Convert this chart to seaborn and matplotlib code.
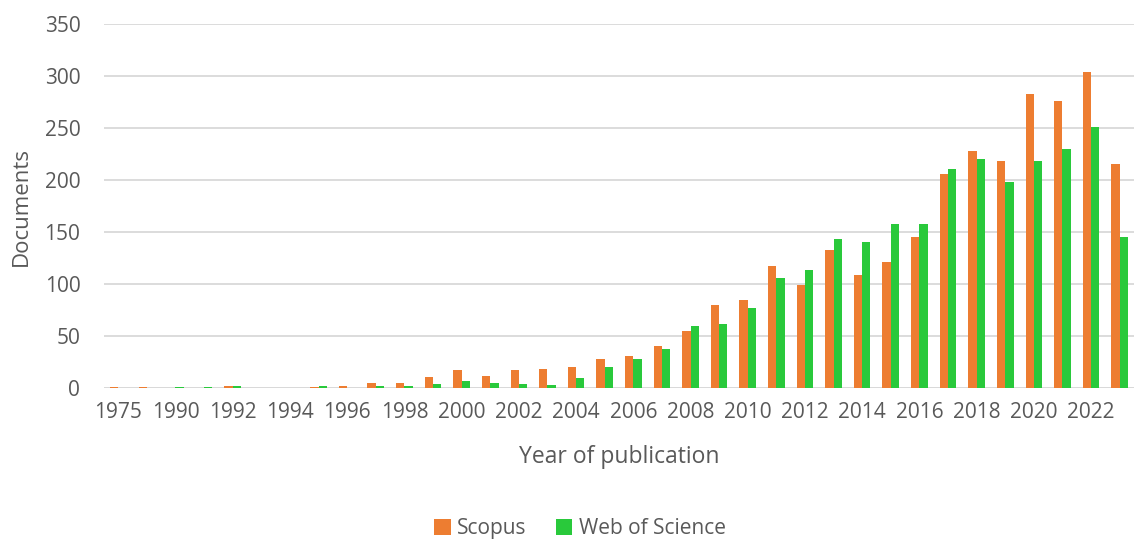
import matplotlib
matplotlib.use("Agg")
import matplotlib.pyplot as plt
import seaborn as sns
import pandas as pd
from matplotlib.patches import Patch

years = ["1975", "1985", "1990", "1991", "1992", "1993", "1994", "1995", "1996", "1997",
         "1998", "1999", "2000", "2001", "2002", "2003", "2004", "2005", "2006", "2007",
         "2008", "2009", "2010", "2011", "2012", "2013", "2014", "2015", "2016", "2017",
         "2018", "2019", "2020", "2021", "2022", "2023"]
scopus = [1, 1, 0, 0, 2, 0, 0, 1, 2, 5,
          5, 11, 17, 12, 17, 18, 20, 28, 31, 40,
          55, 80, 85, 117, 99, 133, 109, 121, 145, 206,
          228, 218, 283, 276, 304, 215]
wos = [0, 0, 1, 1, 2, 0, 0, 2, 0, 2,
       2, 4, 7, 5, 4, 3, 10, 20, 28, 38,
       60, 62, 77, 106, 113, 143, 140, 158, 158, 211,
       220, 198, 218, 230, 251, 145]
series_names = ["Scopus", "Web of Science"]
colors = ["#ED7D31", "#29C93B"]

df = pd.DataFrame({
    "Year": years * 2,
    "Documents": scopus + wos,
    "Source": [series_names[0]] * len(years) + [series_names[1]] * len(years),
})

sns.set_theme(style="white")
plt.rcParams["font.family"] = ["Open Sans", "DejaVu Sans"]
text_color = "#595959"

fig = plt.figure(figsize=(11.35, 5.39), dpi=100)
ax = fig.add_axes([0.0916, 0.2801, 0.9075, 0.6754])

sns.barplot(data=df, x="Year", y="Documents", hue="Source", order=years,
            hue_order=series_names, palette=colors, width=0.58, ax=ax,
            legend=False, saturation=1, linewidth=0)

ax.set_ylim(0, 350)
ax.set_xlim(-0.5, len(years) - 0.5)
ax.set_yticks(range(0, 351, 50))
ax.yaxis.grid(True, color="#D9D9D9", linewidth=1.3)
ax.set_axisbelow(True)
for s in ax.spines.values():
    s.set_visible(False)
ax.axhline(0, color="#D9D9D9", linewidth=1.3, zorder=0)

ticks = list(range(0, len(years), 2))
ax.set_xticks(ticks)
ax.set_xticklabels([years[i] for i in ticks])
ax.tick_params(axis="both", length=0, labelsize=15, colors=text_color)
ax.tick_params(axis="x", pad=10)
ax.tick_params(axis="y", pad=17)

ax.set_xlabel("Year of publication", fontsize=16.5, color=text_color, labelpad=16)
ax.set_ylabel("Documents", fontsize=16, color=text_color, labelpad=12)
ax.yaxis.set_label_coords(-0.07, 0.5)

handles = [Patch(facecolor=c, edgecolor="none") for c in colors]
fig.legend(handles, series_names, loc="lower center", bbox_to_anchor=(0.511, -0.035),
           ncol=2, frameon=False, fontsize=15, handlelength=0.8, handleheight=0.8,
           handletextpad=0.3, columnspacing=1.4, labelcolor=text_color)

fig.savefig("out.png", dpi=100)
